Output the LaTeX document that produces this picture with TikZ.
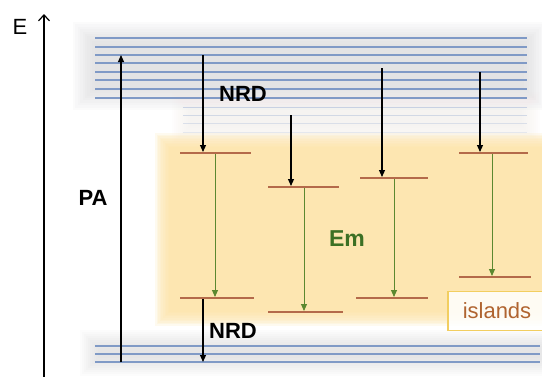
\documentclass[tikz,border=0pt]{standalone}
\usepackage{fontspec}
\setmainfont{Liberation Sans}
\usetikzlibrary{arrows.meta}
\definecolor{bandgray}{RGB}{205,205,208}
\definecolor{pinkish}{RGB}{242,232,228}
\definecolor{islandyel}{RGB}{253,228,166}
\definecolor{bandblue}{RGB}{128,154,198}
\definecolor{fadeblue}{RGB}{190,202,224}
\definecolor{levelbrown}{RGB}{180,106,74}
\definecolor{emgreen}{RGB}{92,136,48}
\definecolor{emtext}{RGB}{60,112,36}
\definecolor{boxline}{RGB}{242,206,96}
\definecolor{boxtext}{RGB}{176,100,48}
\newcommand{\blurbox}[7]{%
  \foreach \k in {0,...,9}{%
    \fill[#5,opacity=#6] ({#1-5*#7+\k*#7},{#2-5*#7+\k*#7}) rectangle ({#3+5*#7-\k*#7},{#4+5*#7-\k*#7});
  }}
\tikzset{
  band/.style={bandblue,line width=1.1pt},
  fadeband/.style={fadeblue,line width=0.9pt},
  level/.style={levelbrown,line width=1.8pt},
  nrdarrow/.style={black,line width=1.1pt,-{Triangle[length=7pt,width=6pt]}},
  emarrow/.style={emgreen,line width=0.9pt,-{Triangle[length=7pt,width=6pt]}},
  lab/.style={font=\fontsize{22}{24}\selectfont\bfseries,inner sep=0pt}
}
\begin{document}
\begin{tikzpicture}[x=1pt,y=-1pt]
\useasboundingbox (0,0) rectangle (542,376);
\fill[white] (0,0) rectangle (542,376);
% soft backgrounds
\blurbox{85}{34}{534}{98}{bandgray}{0.065}{2.4}
\blurbox{182}{102}{530}{134}{pinkish}{0.05}{2}
\blurbox{163}{141}{548}{318}{islandyel}{0.17}{1.6}
\blurbox{90}{340}{548}{366}{bandgray}{0.06}{2}
% top band lines
\foreach \yy in {38,47,55,63,72,80,89,98}{\draw[band] (95,\yy) -- (527,\yy);}
\foreach \yy/\op in {107/0.8,115/0.65,123/0.5,132/0.35}{\draw[fadeband,opacity=\op] (183,\yy) -- (527,\yy);}
% bottom band lines
\foreach \yy in {346,354,362}{\draw[band] (95,\yy) -- (540,\yy);}
% energy axis
\coordinate (ebot) at (44,380);
\coordinate (etop) at (44,14);
\draw[line width=1.4pt,-{Straight Barb[length=6pt,width=11pt,line width=1.2pt]}] (ebot) -- (etop);
\node[font=\fontsize{22}{24}\selectfont,inner sep=0pt] (E) at (20,27) {E};
% levels
\coordinate (a1) at (180,153); \coordinate (b1) at (251,153);
\coordinate (c1) at (180,298); \coordinate (d1) at (254,298);
\coordinate (a2) at (268,187); \coordinate (b2) at (339,187);
\coordinate (c2) at (268,312); \coordinate (d2) at (343,312);
\coordinate (a3) at (360,178); \coordinate (b3) at (428,178);
\coordinate (c3) at (356,298); \coordinate (d3) at (428,298);
\coordinate (a4) at (459,153); \coordinate (b4) at (528,153);
\coordinate (c4) at (459,277); \coordinate (d4) at (531,277);
\foreach \i in {1,2,3,4}{\draw[level] (a\i) -- (b\i); \draw[level] (c\i) -- (d\i);}
% arrow end points
\coordinate (pa0) at (121,362); \coordinate (pa1) at (121,55);
\coordinate (n1s) at (203,55);  \coordinate (n1e) at (203,152);
\coordinate (n2s) at (203,299); \coordinate (n2e) at (203,362);
\coordinate (k2s) at (291,115); \coordinate (k2e) at (291,186);
\coordinate (k3s) at (382,68);  \coordinate (k3e) at (382,177);
\coordinate (k4s) at (480,72);  \coordinate (k4e) at (480,152);
\coordinate (g1s) at (215,154); \coordinate (g1e) at (215,297);
\coordinate (g2s) at (304,188); \coordinate (g2e) at (304,311);
\coordinate (g3s) at (394,179); \coordinate (g3e) at (394,297);
\coordinate (g4s) at (492,154); \coordinate (g4e) at (492,276);
\draw[nrdarrow] (pa0) -- (pa1);
\draw[nrdarrow] (n1s) -- (n1e);
\draw[nrdarrow] (n2s) -- (n2e);
\draw[nrdarrow] (k2s) -- (k2e);
\draw[nrdarrow] (k3s) -- (k3e);
\draw[nrdarrow] (k4s) -- (k4e);
\draw[emarrow] (g1s) -- (g1e);
\draw[emarrow] (g2s) -- (g2e);
\draw[emarrow] (g3s) -- (g3e);
\draw[emarrow] (g4s) -- (g4e);
% labels
\node[lab] (nrdtop) at (243,94) {NRD};
\node[lab] (nrdbot) at (233,331) {NRD};
\node[lab] (pa) at (93,198) {PA};
\node[lab,text=emtext,font=\fontsize{23}{24}\selectfont\bfseries] (em) at (347,239) {Em};
\node[draw=boxline,line width=1.2pt,fill=white,fill opacity=0.85,text opacity=1,text=boxtext,
      font=\fontsize{22}{24}\selectfont,minimum width=98pt,minimum height=39pt,inner sep=0pt]
      (isl) at (497,311) {islands};
\end{tikzpicture}
\end{document}
